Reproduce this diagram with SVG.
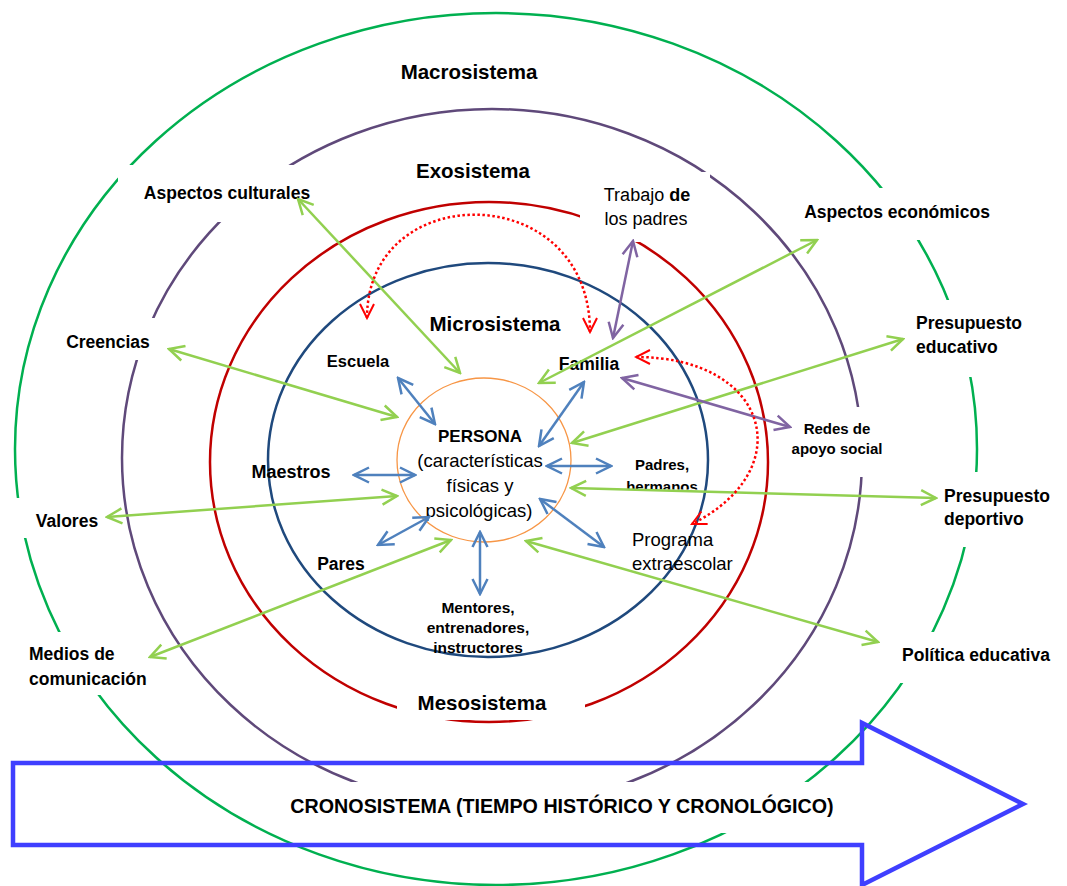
<svg xmlns="http://www.w3.org/2000/svg" width="1067" height="886" viewBox="0 0 1067 886">
<style>
.ring{fill:none;stroke-width:2.5}
.bg{fill:#fff;stroke:none}
.t{font-family:"Liberation Sans",Arial,sans-serif;fill:#000}
.b{font-weight:bold}
.c{text-anchor:middle}
.sys{font-size:20.5px;font-weight:bold}
.out{font-size:17.5px;font-weight:bold}
.sm{font-size:15px;font-weight:bold}
.reg{font-size:18.5px}
.ln{fill:none;stroke-width:2.5}
.g{stroke:#92D050;marker-start:url(#hg);marker-end:url(#hg)}
.bl{stroke:#4F81BD;marker-start:url(#hb);marker-end:url(#hb)}
.pu{stroke:#8064A2;marker-start:url(#hp);marker-end:url(#hp)}
.rd{stroke:#FF0000;stroke-dasharray:2.5 2.5;marker-start:url(#hr);marker-end:url(#hr)}
</style>
<defs>
<marker id="hg" viewBox="0 0 18 18" refX="16" refY="9" markerWidth="18" markerHeight="18" markerUnits="userSpaceOnUse" orient="auto-start-reverse"><path d="M1,1.5 L16,9 L1,16.5" fill="none" stroke="#92D050" stroke-width="2.5"/></marker>
<marker id="hb" viewBox="0 0 18 18" refX="16" refY="9" markerWidth="18" markerHeight="18" markerUnits="userSpaceOnUse" orient="auto-start-reverse"><path d="M1,1.5 L16,9 L1,16.5" fill="none" stroke="#4F81BD" stroke-width="2.5"/></marker>
<marker id="hp" viewBox="0 0 18 18" refX="16" refY="9" markerWidth="18" markerHeight="18" markerUnits="userSpaceOnUse" orient="auto-start-reverse"><path d="M1,1.5 L16,9 L1,16.5" fill="none" stroke="#8064A2" stroke-width="2.5"/></marker>
<marker id="hr" viewBox="0 0 18 18" refX="16" refY="9" markerWidth="18" markerHeight="18" markerUnits="userSpaceOnUse" orient="auto-start-reverse"><path d="M2,2 L16,9 L2,16" fill="none" stroke="#FF0000" stroke-width="2" stroke-dasharray="none"/></marker>
<clipPath id="clipHerm"><rect x="600" y="440" width="120" height="49.5"/></clipPath>
</defs>

<g id="rings">
<ellipse class="ring" cx="496" cy="449" rx="481" ry="436" stroke="#00B050"/>
<ellipse class="ring" cx="492" cy="458" rx="370" ry="349" stroke="#5F497A"/>
<ellipse class="ring" cx="489" cy="462" rx="279" ry="260" stroke="#C00000"/>
<ellipse class="ring" cx="488" cy="460" rx="220" ry="197" stroke="#1F497D"/>
</g>

<g id="node-cronosistema">
<polygon points="13,763 862,763 862,723 1023,804 862,885 862,845 13,845" fill="none" stroke="#3F3FFF" stroke-width="4.5"/>
<rect class="bg" x="280" y="782" width="540" height="51"/>
<text class="t c b" x="562" y="813" font-size="19.7">CRONOSISTEMA (TIEMPO HISTÓRICO Y CRONOLÓGICO)</text>
</g>

<g id="node-macrosistema"><text class="t c sys" x="469" y="79">Macrosistema</text></g>
<g id="node-exosistema"><text class="t c sys" x="473" y="178">Exosistema</text></g>
<g id="node-microsistema"><text class="t c sys" x="495" y="331">Microsistema</text></g>
<g id="node-mesosistema"><rect class="bg" x="397" y="688" width="188" height="32"/><text class="t c sys" x="482" y="710">Mesosistema</text></g>

<g id="node-persona">
<ellipse cx="484" cy="460" rx="87" ry="82" fill="none" stroke="#F79646" stroke-width="1.3"/>
<text class="t c b" x="480" y="442" font-size="17">PERSONA</text>
<text class="t c reg" x="480" y="467">(características</text>
<text class="t c reg" x="480" y="492">físicas y</text>
<text class="t c reg" x="479" y="517">psicológicas)</text>
</g>

<g id="node-aspectos-culturales"><rect class="bg" x="118" y="165" width="195" height="57"/><text class="t c out" x="227" y="199">Aspectos culturales</text></g>
<g id="node-creencias"><rect class="bg" x="60" y="318" width="100" height="42"/><text class="t c out" x="108" y="348">Creencias</text></g>
<g id="node-valores"><rect class="bg" x="8" y="498" width="100" height="40"/><text class="t c out" x="67" y="527">Valores</text></g>
<g id="node-medios"><rect class="bg" x="25" y="632" width="132" height="63"/><text class="t out" x="29" y="660">Medios de</text><text class="t out" x="29" y="685">comunicación</text></g>
<g id="node-trabajo"><rect class="bg" x="580" y="172" width="130" height="70"/><text class="t c" x="647" y="201" font-size="18">Trabajo <tspan font-weight="bold">de</tspan></text><text class="t c" x="646" y="225" font-size="18">los padres</text></g>
<g id="node-aspectos-economicos"><rect class="bg" x="795" y="188" width="205" height="52"/><text class="t c out" x="897" y="218">Aspectos económicos</text></g>
<g id="node-presupuesto-educativo"><rect class="bg" x="905" y="300" width="130" height="77"/><text class="t out" x="916" y="329">Presupuesto</text><text class="t out" x="916" y="353">educativo</text></g>
<g id="node-redes"><rect class="bg" x="770" y="407" width="128" height="70"/><text class="t c sm" x="837" y="434">Redes de</text><text class="t c sm" x="837" y="454">apoyo social</text></g>
<g id="node-presupuesto-deportivo"><rect class="bg" x="930" y="472" width="130" height="75"/><text class="t out" x="944" y="502">Presupuesto</text><text class="t out" x="944" y="525">deportivo</text></g>
<g id="node-politica"><rect class="bg" x="890" y="632" width="170" height="51"/><text class="t c out" x="976" y="661">Política educativa</text></g>

<g id="node-escuela"><text class="t c b" x="358" y="367" font-size="16.5">Escuela</text></g>
<g id="node-familia"><text class="t c b" x="589" y="370" font-size="17.5">Familia</text></g>
<g id="node-maestros"><text class="t c b" x="291" y="478" font-size="18">Maestros</text></g>
<g id="node-padres"><text class="t c sm" x="662" y="470">Padres,</text><text class="t c sm" x="662" y="492" clip-path="url(#clipHerm)">hermanos</text></g>
<g id="node-pares"><text class="t c b" x="341" y="570" font-size="17.5">Pares</text></g>
<g id="node-programa"><text class="t reg" x="632" y="546">Programa</text><text class="t reg" x="632" y="570">extraescolar</text></g>
<g id="node-mentores"><text class="t c b" x="478" y="613" font-size="15.5">Mentores,</text><text class="t c b" x="478" y="633" font-size="15.5">entrenadores,</text><text class="t c b" x="478" y="653" font-size="15.5">instructores</text></g>

<g id="connectors">
<line class="ln g" x1="460" y1="373" x2="298" y2="199"/>
<line class="ln g" x1="397" y1="417" x2="169" y2="349"/>
<line class="ln g" x1="397" y1="496" x2="107" y2="517"/>
<line class="ln g" x1="451" y1="540" x2="150" y2="657"/>
<line class="ln g" x1="539" y1="383" x2="817" y2="240"/>
<line class="ln g" x1="572" y1="443" x2="903" y2="339"/>
<line class="ln g" x1="571" y1="488" x2="936" y2="498"/>
<line class="ln g" x1="526" y1="541" x2="878" y2="642"/>
<line class="ln bl" x1="398" y1="378" x2="435" y2="424"/>
<line class="ln bl" x1="584" y1="382" x2="539" y2="446"/>
<line class="ln bl" x1="354" y1="475" x2="415" y2="475"/>
<line class="ln bl" x1="547" y1="466" x2="611" y2="466"/>
<line class="ln bl" x1="378" y1="545" x2="429" y2="517"/>
<line class="ln bl" x1="540" y1="499" x2="604" y2="547"/>
<line class="ln bl" x1="480" y1="532" x2="480" y2="594"/>
<line class="ln pu" x1="633" y1="241" x2="613" y2="338"/>
<line class="ln pu" x1="622" y1="378" x2="790" y2="427"/>
<path class="ln rd" d="M367,318 C367,178 590,178 590,332"/>
<path class="ln rd" d="M636,357 C770,357 800,470 692,524"/>
</g>
</svg>
